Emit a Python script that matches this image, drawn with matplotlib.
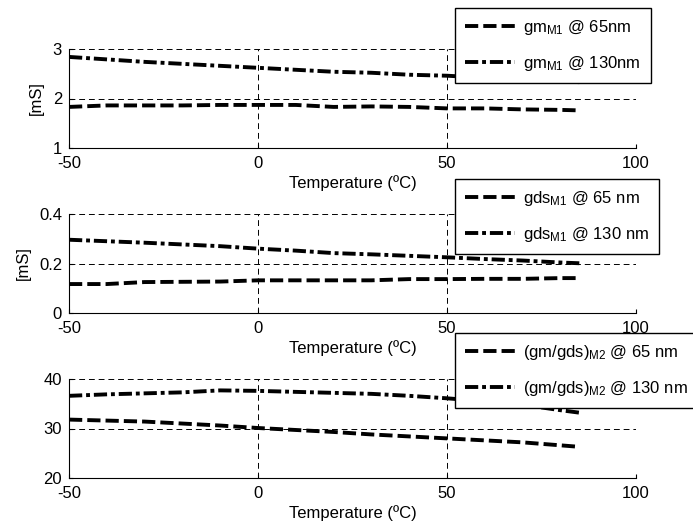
import numpy as np
import matplotlib
matplotlib.use("Agg")
import matplotlib.pyplot as plt

plt.rcParams['font.family'] = ['Liberation Sans', 'DejaVu Sans']
plt.rcParams['mathtext.default'] = 'regular'
plt.rcParams['axes.unicode_minus'] = False
plt.rcParams['font.size'] = 12

# temperature sweep (ºC)
temperature = [-50, -40, -30, -20, -10, 0, 10, 20, 30, 40, 50, 60, 70, 80, 85]

# gm of M1 [mS]
gm_65 = [1.83, 1.86, 1.86, 1.86, 1.87, 1.87, 1.87, 1.83, 1.84, 1.83, 1.80, 1.80, 1.78, 1.77, 1.76]
gm_130 = [2.84, 2.79, 2.74, 2.70, 2.66, 2.62, 2.58, 2.54, 2.52, 2.48, 2.46, 2.42, 2.38, 2.35, 2.33]

# gds of M1 [mS]
gds_65 = [0.117, 0.117, 0.125, 0.126, 0.127, 0.132, 0.132, 0.132, 0.132, 0.137, 0.137, 0.138, 0.138, 0.141, 0.141]
gds_130 = [0.296, 0.290, 0.284, 0.277, 0.270, 0.260, 0.252, 0.242, 0.237, 0.231, 0.225, 0.218, 0.212, 0.204, 0.201]

# gm/gds of M2
gain_65 = [31.8, 31.6, 31.4, 31.0, 30.6, 30.1, 29.7, 29.3, 28.8, 28.4, 28.0, 27.6, 27.2, 26.6, 26.3]
gain_130 = [36.6, 36.9, 37.1, 37.3, 37.7, 37.6, 37.4, 37.2, 37.0, 36.6, 36.1, 35.5, 34.8, 33.7, 33.2]

labels_gm = ['gm$_{M1}$ @ 65nm', 'gm$_{M1}$ @ 130nm']
labels_gds = ['gds$_{M1}$ @ 65 nm', 'gds$_{M1}$ @ 130 nm']
labels_gain = ['(gm/gds)$_{M2}$ @ 65 nm', '(gm/gds)$_{M2}$ @ 130 nm']

xticks = [-50, 0, 50, 100]
yticks_gm = [1, 2, 3]
yticks_gds = [0, 0.2, 0.4]
yticks_gain = [20, 30, 40]
yticklabels_gds = ['0', '0.2', '0.4']

W, H = 693, 529
fig = plt.figure(figsize=(W / 100, H / 100), dpi=100)

left = 69 / W
width = (636 - 69) / W
panel_h = 99 / H

# (bottom px, yticks, tick labels, ylabel, data, labels, legend top-left px)
panels = [
    (148, yticks_gm, None, '[mS]', (gm_65, gm_130), labels_gm, (455, 8)),
    (313, yticks_gds, yticklabels_gds, '[mS]', (gds_65, gds_130), labels_gds, (455, 179)),
    (478, yticks_gain, None, None, (gain_65, gain_130), labels_gain, (455, 333)),
]

dash = (0, (3.4, 1.3))
dashdot = (0, (3.4, 1.0, 1.0, 1.0))

for bottom_px, yticks, yticklabels, ylabel, (s65, s130), labels, (lx, ly) in panels:
    ax = fig.add_axes([left, 1 - bottom_px / H, width, panel_h])
    l1, = ax.plot(temperature, s65, color='k', lw=2.8, linestyle=dash)
    l2, = ax.plot(temperature, s130, color='k', lw=2.8, linestyle=dashdot)
    ax.set_xlim(xticks[0], xticks[-1])
    ax.set_ylim(yticks[0], yticks[-1])
    ax.set_xticks(xticks)
    ax.set_yticks(yticks)
    if yticklabels:
        ax.set_yticklabels(yticklabels)
    ax.grid(True, color='k', lw=0.7, linestyle=(0, (6, 4)))
    ax.spines['top'].set_visible(False)
    ax.spines['right'].set_visible(False)
    ax.tick_params(direction='in', length=3, labelsize=12)
    ax.tick_params(axis='x', pad=6)
    ax.tick_params(axis='y', pad=5)
    ax.set_xlabel('Temperature (ºC)', labelpad=3)
    if ylabel:
        ax.set_ylabel(ylabel, labelpad=6)
    leg = fig.legend([l1, l2], labels, loc='upper left',
                     bbox_to_anchor=(lx / W, 1 - ly / H), bbox_transform=fig.transFigure,
                     borderaxespad=0, fancybox=False, framealpha=1, edgecolor='k',
                     handlelength=3.0, handletextpad=0.5, labelspacing=1.0,
                     borderpad=0.6, fontsize=12)
    leg.get_frame().set_linewidth(1.0)

fig.savefig('out.png', dpi=100)
